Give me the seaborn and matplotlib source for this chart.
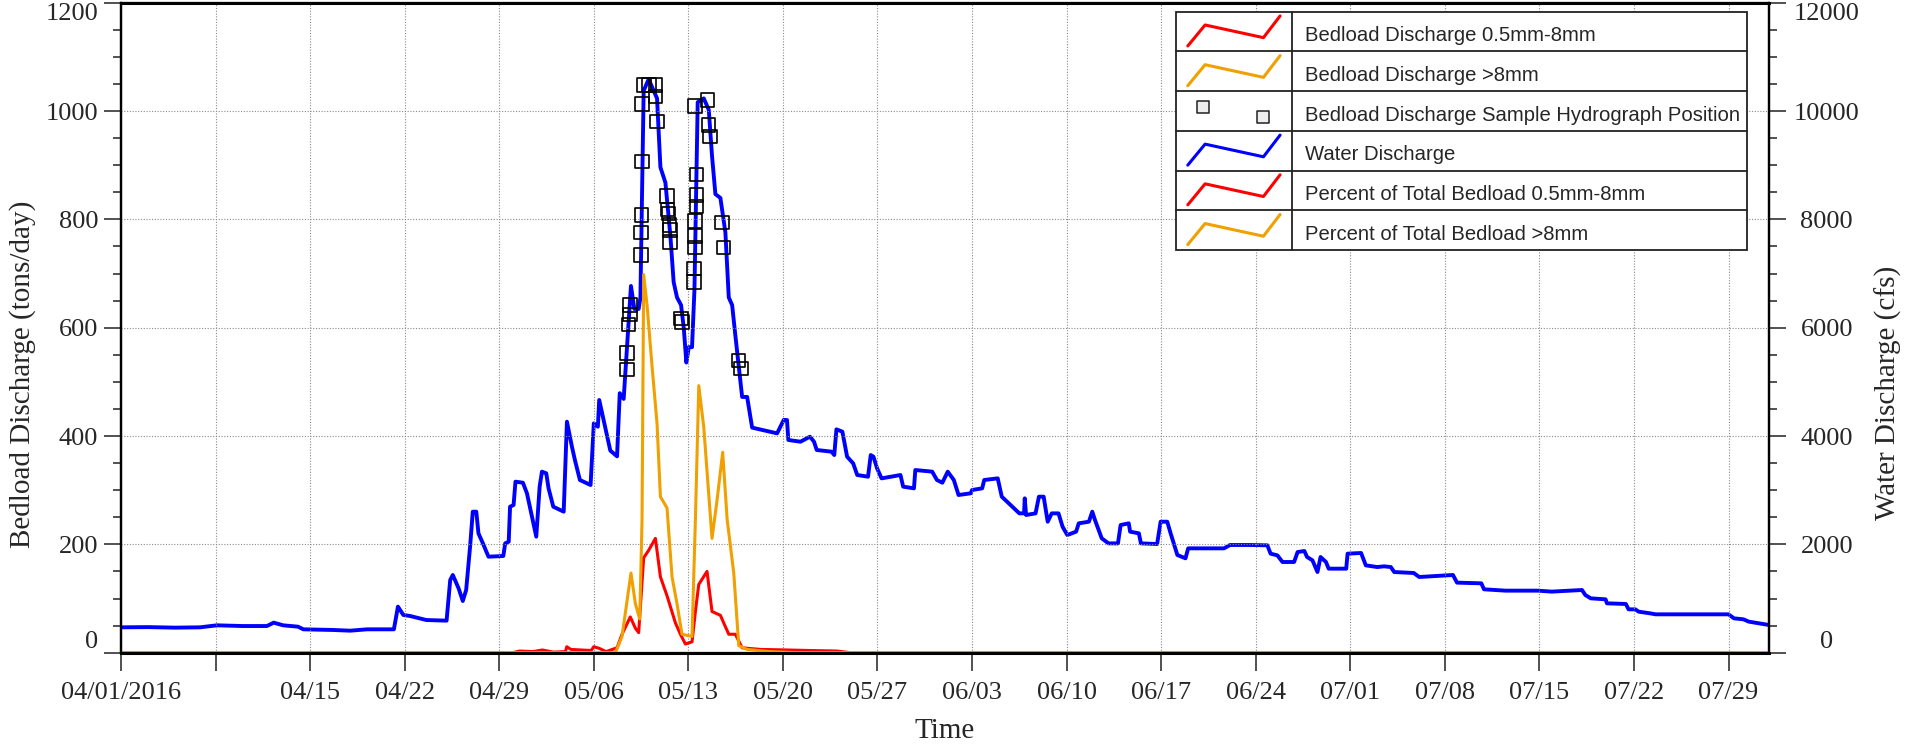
import numpy as np
import pandas as pd
import matplotlib
matplotlib.use('Agg')
import matplotlib.pyplot as plt
from matplotlib.patches import Rectangle
from matplotlib.ticker import MultipleLocator
from matplotlib import font_manager
import seaborn as sns

# days counted from 04/01/2016
water_day = [0, 2, 4, 5.85, 7.1, 9, 10.8, 11.3, 12.0, 13.1, 13.5, 15.7, 16.96, 18.2, 20.2, 20.5, 20.9, 21.4, 22.6, 24.1,
             24.37, 24.56, 24.99, 25.3, 25.55, 25.84, 26.04, 26.3, 26.46, 26.79, 27.2, 28.3, 28.44, 28.7, 28.8, 29.06,
             29.2, 29.75, 30.05, 30.74, 30.99, 31.16, 31.48, 31.65, 32.0, 32.77, 33.01, 33.38, 33.6, 33.97, 34.76,
             35.0, 35.3, 35.4, 35.85, 36.22, 36.72, 36.92, 37.21, 37.75, 38.0, 38.32, 38.45, 38.69, 39.06, 39.68,
             39.93, 40.3, 40.67, 40.91, 41.16, 41.46, 41.66, 41.85, 42.03, 42.27, 42.45, 42.69, 43.14, 43.51, 43.75,
             44.0, 44.37, 44.74, 44.99, 45.24, 45.48, 45.98, 46.35, 46.72, 47.33, 48.57, 49.06, 49.3, 49.4, 50.3,
             51.0, 51.3, 51.5, 52.6, 52.8, 52.96, 53.4, 53.75, 54.2, 54.5, 55.3, 55.5, 55.7, 55.97, 56.3, 57.7, 57.9,
             58.7, 58.8, 60.05, 60.4, 60.8, 61.2, 61.65, 62.0, 62.9, 63.0, 63.75, 63.9, 64.9, 65.2, 66.1, 66.5, 66.85,
             66.9, 67.0, 67.7, 67.95, 68.3, 68.6, 68.9, 69.4, 69.7, 70.05, 70.7, 70.9, 71.65, 71.9, 72.1, 72.6, 73.1,
             73.8, 74.0, 74.6, 74.7, 75.35, 75.5, 76.7, 76.96, 77.45, 77.7, 78.2, 78.8, 79.0, 80.2, 81.65, 82.1, 83.6,
             84.86, 85.1, 85.6, 85.98, 86.84, 87.1, 87.6, 87.8, 88.2, 88.57, 88.8, 89.2, 89.4, 90.7, 90.8, 91.8, 92.15,
             93.0, 93.5, 94.0, 94.25, 95.7, 96.1, 98.6, 98.9, 100.7, 100.9, 102.5, 104.9, 105.9, 108.15, 108.4, 108.8,
             109.9, 110.0, 111.4, 111.6, 112.1, 112.35, 113.2, 113.6, 119.0, 119.4, 120.1, 120.5, 122.0]
water_cfs = [468, 472, 462, 468, 505, 492, 492, 554, 505, 480, 431, 419, 406, 431, 431, 850, 696, 677, 603, 591,
             1342, 1434, 1188, 954, 1157, 1957, 2603, 2603, 2203, 2018, 1772, 1785, 2018, 2049, 2695, 2726,
             3157, 3138, 2942, 2142, 3065, 3342, 3311, 3034, 2695, 2603, 4265, 3803, 3557, 3188, 3095,
             4234, 4172, 4665, 4155, 3731, 3625, 4791, 4685, 6770, 6346, 6346, 6558, 10374, 10587, 10233,
             8961, 8678, 7689, 6841, 6558, 6417, 5993, 5357, 5640, 5640, 6700, 10162, 10233, 10021, 9173,
             8466, 8395, 7760, 6558, 6417, 5851, 4721, 4721, 4155, 4120, 4049, 4297, 4295, 3926, 3895,
             3988, 3895, 3742, 3711, 3649, 4123, 4080, 3618, 3495, 3280, 3249, 3649, 3618, 3403, 3218, 3280, 3065,
             3034, 3372, 3342, 3188, 3138, 3342, 3188, 2911, 2942, 3003, 3034, 3188, 3218, 2880, 2665, 2572, 2572,
             2849, 2542, 2572, 2880, 2880, 2418, 2572, 2572, 2326, 2172, 2234, 2388, 2418, 2603, 2449, 2111, 2018,
             2018, 2357, 2388, 2234, 2203, 2018, 2006, 2418, 2418, 2203, 1803, 1742, 1926, 1926, 1926, 1988, 1988,
             1982, 1828, 1797, 1674, 1674, 1858, 1877, 1766, 1705, 1489, 1766, 1674, 1551, 1551, 1828, 1840, 1612,
             1581, 1594, 1581, 1489, 1471, 1397, 1434, 1293, 1280, 1170, 1145, 1145, 1127, 1157, 1065, 1003,
             985, 911, 899, 800, 800, 757, 726, 708, 708, 634, 616, 573, 511]

fine_day = [0, 29.0, 29.5, 30.5, 31.2, 32.0, 32.9, 33.0, 33.3, 34.8, 35.0, 35.4, 35.9, 36.72, 37.09, 37.7, 38.08,
            38.32, 38.69, 39.06, 39.56, 39.93, 40.42, 41.04, 41.41, 41.78, 42.27, 42.52, 42.77, 43.38, 43.75, 44.37,
            44.74, 44.99, 45.48, 45.98, 47.33, 49.3, 51.0, 53.0, 54.0, 122.0]
fine_tons = [0, 0, 3, 2, 5, 1, 2, 11, 6, 4, 11, 8, 2, 9, 34, 66, 45,
             37, 175, 189, 211, 140, 105, 55, 34, 16, 20, 76, 126, 150, 76, 69,
             48, 34, 34, 9, 6, 5, 4, 3, 0, 0]

coarse_day = [0, 36.6, 37.09, 37.75, 38.08, 38.4, 38.57, 38.69, 38.94, 39.31, 39.68, 39.93, 40.42, 40.79, 41.16,
              41.53, 42.27, 42.52, 42.77, 43.14, 43.75, 44.12, 44.54, 44.87, 45.36, 45.73, 46.35, 48.0, 50.0, 122.0]
coarse_tons = [0, 0, 30, 147, 90, 62, 246, 698, 642, 529, 423, 288, 267, 140, 90,
               34, 30, 246, 493, 416, 211, 281, 370, 246, 147, 13, 6, 2, 0, 0]

sample_day = [37.46, 37.46, 37.58, 37.66, 37.66, 38.5, 38.5, 38.52, 38.57, 38.57, 38.7, 39.07, 39.56, 39.56, 39.68,
              40.43, 40.47, 40.54, 40.59, 40.62, 40.62, 41.46, 41.53, 42.4, 42.4, 42.5, 42.5, 42.5, 42.6, 42.6, 42.6,
              42.5, 43.4, 43.5, 43.6, 44.5, 44.6, 45.7, 45.9]
sample_tons = [553, 523, 606, 624, 642, 734, 776, 808, 907, 1013, 1048, 1048, 1048, 1027, 981,
               843, 818, 811, 790, 780, 758, 617, 610, 684, 709, 748, 769, 797, 824, 845, 883,
               1009, 1020, 974, 953, 794, 748, 539, 525]

tick_labels = ['04/01/2016', '', '04/15', '04/22', '04/29', '05/06', '05/13', '05/20', '05/27', '06/03',
               '06/10', '06/17', '06/24', '07/01', '07/08', '07/15', '07/22', '07/29']
legend_labels = ['Bedload Discharge 0.5mm-8mm', 'Bedload Discharge >8mm',
                 'Bedload Discharge Sample Hydrograph Position', 'Water Discharge',
                 'Percent of Total Bedload 0.5mm-8mm', 'Percent of Total Bedload >8mm']
legend_colors = ['#ff0000', '#f0a000', None, '#0000ff', '#ff0000', '#f0a000']

start = pd.Timestamp('2016-04-01')


def to_date(days):
    return start + pd.to_timedelta(days, unit='D')


# narrow font for the legend if there is one, else plain Liberation Sans smaller
try:
    font_manager.findfont(font_manager.FontProperties(family='Liberation Sans Narrow'),
                          fallback_to_default=False)
    leg_family, leg_size = 'Liberation Sans Narrow', 17.5
except ValueError:
    leg_family, leg_size = 'Liberation Sans', 14.6

sns.set_theme(style='ticks')
plt.rcParams['font.family'] = ['Liberation Serif', 'DejaVu Serif']
plt.rcParams['axes.unicode_minus'] = False

fig = plt.figure(figsize=(19.21, 7.46), dpi=100)
ax = fig.add_axes([0.0630, 0.1251, 0.8579, 0.8713])
ax2 = ax.twinx()
ax.set_zorder(2)
ax2.set_zorder(1)
ax.patch.set_visible(False)

sns.lineplot(x=to_date(water_day), y=water_cfs, ax=ax2, color='#0000ff', lw=2.8,
             estimator=None, sort=False, legend=False)
sns.lineplot(x=to_date(fine_day), y=fine_tons, ax=ax, color='#ff0000', lw=2.2,
             estimator=None, sort=False, legend=False)
sns.lineplot(x=to_date(coarse_day), y=coarse_tons, ax=ax, color='#f0a000', lw=2.2,
             estimator=None, sort=False, legend=False)
sns.scatterplot(x=to_date(sample_day), y=sample_tons, ax=ax, marker='s', s=95,
                facecolor='none', edgecolor='black', linewidth=1.2, zorder=5, legend=False)

ax.set_xlim(start, start + pd.Timedelta(days=122))
ax.set_ylim(0, 1200)
ax2.set_ylim(0, 12000)

ticks = [start + pd.Timedelta(days=7 * i) for i in range(len(tick_labels))]
ax.set_xticks(ticks)
ax.set_xticklabels(tick_labels)
ax.set_yticks(np.arange(0, 1201, 200))
ax.yaxis.set_minor_locator(MultipleLocator(50))
ax2.set_yticks(np.arange(0, 12001, 2000))
ax2.yaxis.set_minor_locator(MultipleLocator(500))

ax.grid(True, which='major', color='#8a8a8a', linestyle=(0, (1, 1.5)), lw=0.8)
ax.set_axisbelow(True)

ax.tick_params(axis='y', which='major', direction='out', length=12, width=1.2, color='#333333',
               labelsize=19, pad=4.5)
ax.tick_params(axis='y', which='minor', direction='out', length=6, width=1.2, color='#333333')
ax.tick_params(axis='x', which='major', direction='out', length=13, width=1.2, color='#333333',
               labelsize=19, pad=8)
ax2.tick_params(axis='y', which='major', direction='out', length=12, width=1.2, color='#333333',
                labelsize=19, pad=29.5)
ax2.tick_params(axis='y', which='minor', direction='out', length=6, width=1.2, color='#333333')

for a in (ax, ax2):
    for s in a.spines.values():
        s.set_color('black')
        s.set_linewidth(1.6)
ax.spines['bottom'].set_linewidth(2.2)
ax.spines['top'].set_linewidth(2.2)

lbls = ax.get_yticklabels()
lbls[0].set_va('bottom')
lbls[-1].set_va('top')
lbls2 = ax2.get_yticklabels()
for t in lbls2:
    t.set_ha('center')
lbls2[0].set_va('bottom')
lbls2[-1].set_va('top')

ax.set_xlabel('Time', fontsize=21)
ax.set_ylabel('Bedload Discharge (tons/day)', fontsize=21)
ax2.set_ylabel('Water Discharge (cfs)', fontsize=21)
ax.xaxis.set_label_coords(0.5, -0.1205)
ax.xaxis.label.set_va('center')
ax.yaxis.set_label_coords(-0.0597, 0.429)
ax2.yaxis.set_label_coords(1.0722, 0.40)
for lab in (ax.yaxis.label, ax2.yaxis.label):
    lab.set_va('center')
    lab.set_ha('center')
    lab.set_rotation(90)
    lab.set_rotation_mode('anchor')

# legend drawn as a little table, in axes fractions
lx0, lx1, ldiv, ltxt = 0.6402, 0.9866, 0.7104, 0.7185
ltop, row_h = 0.9862, 0.0611
nrow = len(legend_labels)
ax.add_patch(Rectangle((lx0, ltop - nrow * row_h), lx1 - lx0, nrow * row_h, transform=ax.transAxes,
                       fc='white', ec='#222222', lw=1.3, zorder=20, clip_on=False))
ax.plot([ldiv, ldiv], [ltop, ltop - nrow * row_h], transform=ax.transAxes, color='#222222',
        lw=1.3, zorder=21, clip_on=False)
zig_x = [0.6473, 0.6578, 0.6932, 0.7033]
zig_dy = [0.0528, 0.0205, 0.0400, 0.0066]
for i, (label, col) in enumerate(zip(legend_labels, legend_colors)):
    rt = ltop - i * row_h
    if i > 0:
        ax.plot([lx0, lx1], [rt, rt], transform=ax.transAxes, color='#222222', lw=1.3,
                zorder=21, clip_on=False)
    if col is None:
        ax.scatter([0.6567, 0.6927], [rt - 0.0246, rt - 0.0400], transform=ax.transAxes, marker='s',
                   s=85, facecolor='#eeeeee', edgecolor='#222222', linewidth=1.1, zorder=22, clip_on=False)
    else:
        ax.plot(zig_x, [rt - d for d in zig_dy], transform=ax.transAxes, color=col, lw=2.2,
                zorder=22, clip_on=False)
    ax.text(ltxt, rt - row_h + 0.0155, label, transform=ax.transAxes, ha='left', va='baseline',
            fontsize=leg_size, family=leg_family, zorder=23)

fig.savefig('out.png', dpi=100)
